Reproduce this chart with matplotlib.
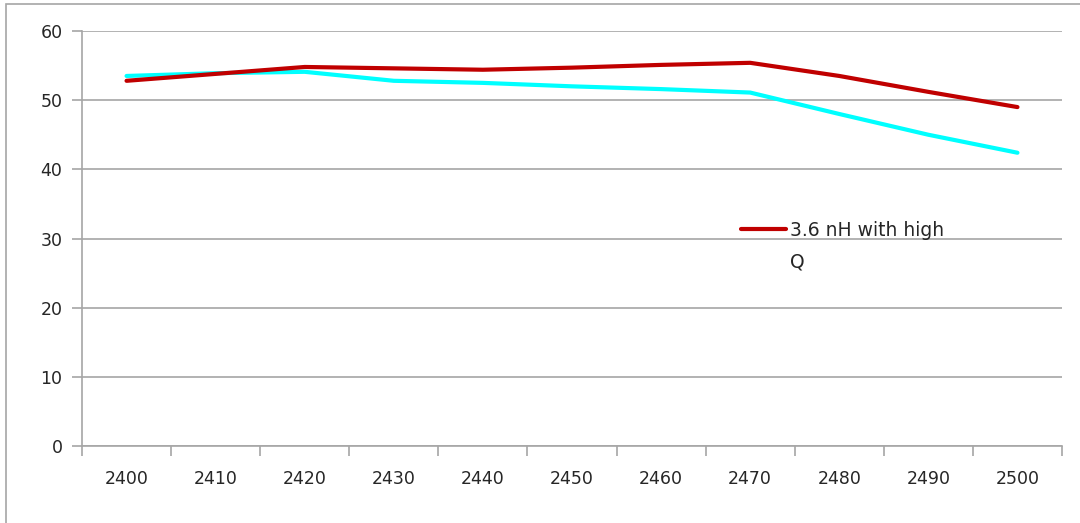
import numpy as np
import matplotlib.pyplot as plt
from matplotlib.patches import Rectangle

freqs = ['2400', '2410', '2420', '2430', '2440', '2450', '2460', '2470', '2480', '2490', '2500']
high_q = [52.8, 53.8, 54.8, 54.6, 54.4, 54.7, 55.1, 55.4, 53.5, 51.2, 49.0]
other = [53.5, 53.9, 54.1, 52.8, 52.5, 52.0, 51.6, 51.1, 48.0, 45.0, 42.4]
yticks = [0, 10, 20, 30, 40, 50, 60]

plt.rcParams['font.family'] = ['DejaVu Sans']
grey = '#A6A6A6'

fig = plt.figure(figsize=(10.8, 5.23), dpi=100)
fig.patches.append(Rectangle((6 / 1080, -0.1), 1.2, 1 - 4 / 523 + 0.1, transform=fig.transFigure,
                             fill=False, edgecolor=grey, linewidth=1.2))
ax = fig.add_axes([82 / 1080, 1 - 446 / 523, 980 / 1080, 415 / 523])

x = np.arange(len(freqs))
red_line, = ax.plot(x, high_q, color='#C00000', linewidth=3, solid_capstyle='round', zorder=3)
ax.plot(x, other, color='#00FFFF', linewidth=3, solid_capstyle='round', zorder=2)

ax.set_xlim(-0.5, len(freqs) - 0.5)
ax.set_ylim(0, 60)
ax.set_yticks(yticks)
ax.set_yticklabels([str(v) for v in yticks])
ax.yaxis.grid(True, color=grey, linewidth=1.2)
ax.set_axisbelow(True)

ax.set_xticks(np.arange(len(freqs) + 1) - 0.5)
ax.set_xticklabels([])
ax.set_xticks(x, minor=True)
ax.set_xticklabels(freqs, minor=True)
ax.tick_params(axis='x', which='major', length=7, color=grey, width=1.2, direction='out')
ax.tick_params(axis='x', which='minor', length=0, pad=17, labelsize=12.5, labelcolor='#262626')
ax.tick_params(axis='y', length=7, color=grey, width=1.2, pad=7, labelsize=12.5, labelcolor='#262626')

for side in ['top', 'right']:
    ax.spines[side].set_visible(False)
for side in ['left', 'bottom']:
    ax.spines[side].set_color(grey)
    ax.spines[side].set_linewidth(1.2)

ax.legend([red_line], ['3.6 nH with high'], loc='upper left', bbox_to_anchor=(659 / 980, (446 - 221) / 415),
          frameon=False, fontsize=13.5, handlelength=2.4, handletextpad=0.2, borderaxespad=0,
          borderpad=0, labelcolor='#262626')
ax.text(708 / 980, (446 - 262) / 415, 'Q', transform=ax.transAxes, fontsize=13.5, color='#262626',
        va='center', ha='left')

fig.savefig('out.png', dpi=100)
